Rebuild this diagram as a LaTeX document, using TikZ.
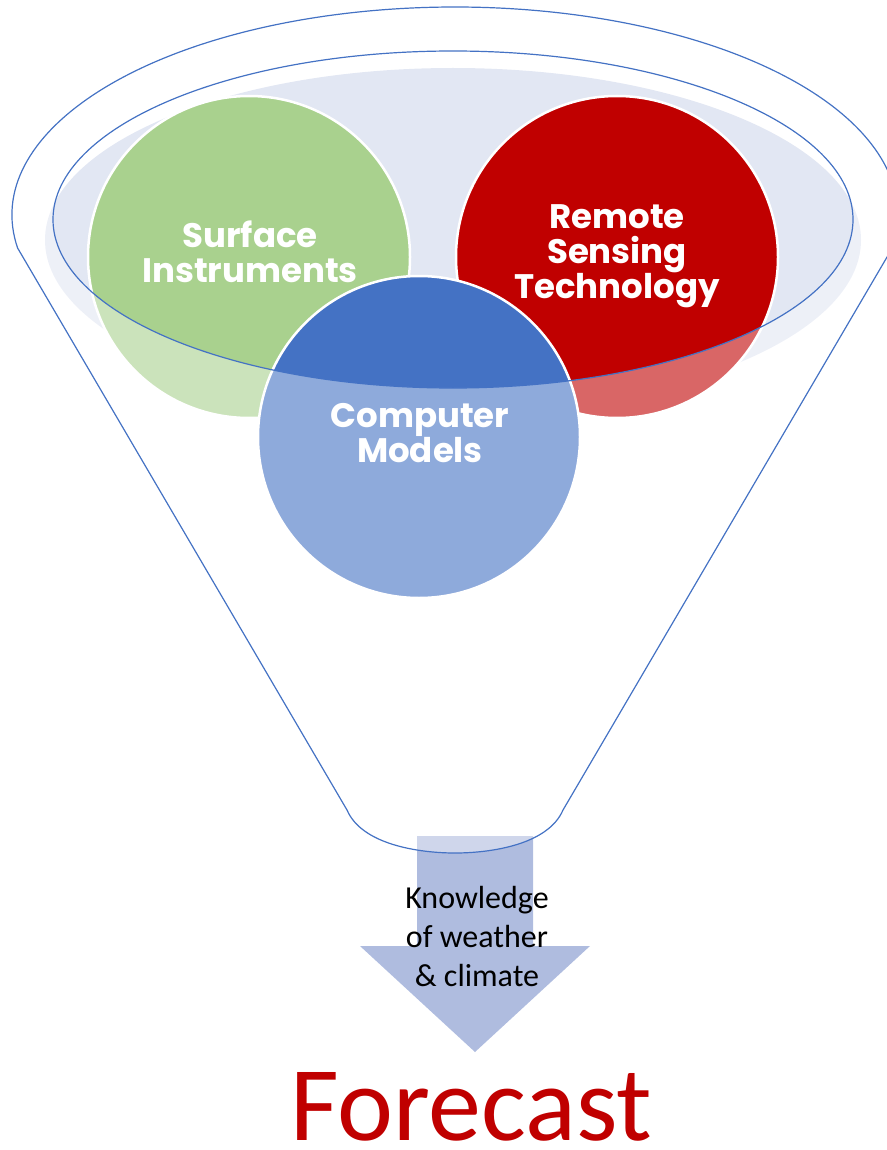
\documentclass[tikz,border=0pt]{standalone}
\usepackage{fontspec}
\newfontfamily\lblfont{Poppins}
\newfontfamily\calfont{Carlito}
\definecolor{fblue}{HTML}{4472C4}
\definecolor{bowl}{HTML}{E2E7F3}
\definecolor{cgreen}{HTML}{A9D18E}
\definecolor{cred}{HTML}{C00000}
\definecolor{cblue}{HTML}{4472C4}
\definecolor{arrowc}{HTML}{AFBCDF}
\definecolor{fcred}{HTML}{C00000}
\tikzset{
  bubble/.style={circle, minimum size=322pt, inner sep=0pt, draw=white, line width=2.5pt},
  lbl/.style={text=white, align=center, inner sep=0pt, font=\lblfont\bfseries\fontsize{34}{35}\selectfont},
  funnelline/.style={draw=fblue, line width=1.2pt, line join=round},
}
\begin{document}
\begin{tikzpicture}[x=1pt, y=-1pt]
\useasboundingbox (0,0) rectangle (886,1150);
% bowl
\fill[bowl] (453,240) ellipse [x radius=408pt, y radius=172pt];
% circles
\node[bubble, fill=cgreen] (green) at (249,257) {};
\node[bubble, fill=cred] (red) at (617,257) {};
\node[bubble, fill=cblue] (blue) at (419,437) {};
% arrow
\fill[arrowc] (417,836) -- (533,836) -- (533,946) -- (590,946) -- (475,1052) -- (360,946) -- (417,946) -- cycle;
% funnel translucent body
\fill[white, fill opacity=0.4, even odd rule]
  (17.6,248) arc [start angle=189.13, end angle=-9.13, x radius=443pt, y radius=208pt]
  -- (563,810) .. controls (548,845) and (490,853) .. (455,853)
  .. controls (420,853) and (362,845) .. (347,810) -- cycle
  (453,219.5) ellipse [x radius=400pt, y radius=168.5pt];
% funnel lines
\draw[funnelline]
  (17.6,248) arc [start angle=189.13, end angle=-9.13, x radius=443pt, y radius=208pt]
  -- (563,810) .. controls (548,845) and (490,853) .. (455,853)
  .. controls (420,853) and (362,845) .. (347,810) -- cycle;
\draw[funnelline] (453,219.5) ellipse [x radius=400pt, y radius=168.5pt];
% labels
\node[lbl] (glbl) at (250,252) {Surface\\Instruments};
\node[lbl] (rlbl) at (617,256) {Remote\\Sensing\\Technology};
\node[lbl] (blbl) at (420,433) {Computer\\Models};
\node[align=center, inner sep=0pt, font=\calfont\fontsize{32}{39}\selectfont] (know) at (477,936) {Knowledge\\of weather\\\& climate};
\node[anchor=base, inner sep=0pt, text=fcred, font=\calfont\fontsize{106}{110}\selectfont] (fc) at (471,1140) {Forecast};
\end{tikzpicture}
\end{document}
